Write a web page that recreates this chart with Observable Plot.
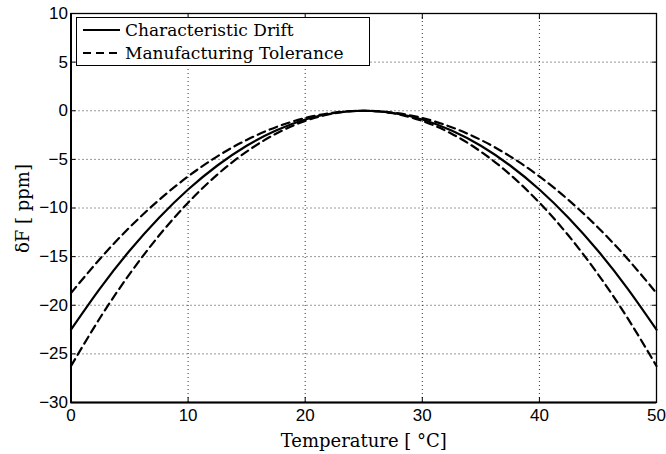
<!DOCTYPE html>
<html><head><meta charset="utf-8">
<script src="https://cdn.jsdelivr.net/npm/d3@7"></script>
<script src="https://cdn.jsdelivr.net/npm/@observablehq/plot@0.6"></script>
<style>
html,body{margin:0;padding:0;background:#fff;}
#wrap{position:relative;width:666px;height:454px;}
#legend{position:absolute;left:76px;top:17px;width:292px;height:47px;border:1.3px solid #000;background:#fff;font-family:"DejaVu Serif";font-size:17px;color:#000;}
.row{position:absolute;left:6px;height:22px;display:flex;align-items:center;white-space:nowrap;}
.row span{margin-left:5px;}
</style></head><body>
<div id="wrap"><div id="chart"></div>
<div id="legend">
<div class="row" style="top:1px"><svg width="37" height="4"><line x1="0" y1="2" x2="37" y2="2" stroke="#000" stroke-width="2.2"/></svg><span>Characteristic Drift</span></div>
<div class="row" style="top:24px"><svg width="37" height="4"><line x1="0" y1="2" x2="37" y2="2" stroke="#000" stroke-width="2.2" stroke-dasharray="8,5"/></svg><span>Manufacturing Tolerance</span></div>
</div></div>
<script>
const temps = [0,2.5,5,7.5,10,12.5,15,17.5,20,22.5,25,27.5,30,32.5,35,37.5,40,42.5,45,47.5,50];
const drift = [-22.5,-18.23,-14.4,-11.03,-8.1,-5.63,-3.6,-2.03,-0.9,-0.23,0,-0.23,-0.9,-2.03,-3.6,-5.63,-8.1,-11.03,-14.4,-18.23,-22.5];
const tolUpper = [-18.75,-15.19,-12.0,-9.19,-6.75,-4.69,-3.0,-1.69,-0.75,-0.19,0,-0.19,-0.75,-1.69,-3.0,-4.69,-6.75,-9.19,-12.0,-15.19,-18.75];
const tolLower = [-26.25,-21.26,-16.8,-12.86,-9.45,-6.56,-4.2,-2.36,-1.05,-0.26,0,-0.26,-1.05,-2.36,-4.2,-6.56,-9.45,-12.86,-16.8,-21.26,-26.25];
const xTicks = [0,10,20,30,40,50];
const yTicks = [-30,-25,-20,-15,-10,-5,0,5,10];

const pts = (ys) => temps.map((t,i)=>({t, v: ys[i]}));
const sans = "Liberation Sans, Arial, sans-serif";
const serifFont = "DejaVu Serif";

const chart = Plot.plot({
  width: 666, height: 454,
  marginLeft: 70.5, marginRight: 10, marginTop: 13, marginBottom: 52,
  style: {fontFamily: sans, fontSize: "17px", background: "#fff", color: "#000"},
  x: {domain: [0,50]},
  y: {domain: [-30,10]},
  marks: [
    Plot.ruleX(xTicks, {stroke: "#333", strokeWidth: 1, strokeDasharray: "1,3"}),
    Plot.ruleY(yTicks, {stroke: "#333", strokeWidth: 1, strokeDasharray: "1,3"}),
    Plot.line(pts(drift), {x: "t", y: "v", curve: "natural", stroke: "#000", strokeWidth: 2.2}),
    Plot.line(pts(tolUpper), {x: "t", y: "v", curve: "natural", stroke: "#000", strokeWidth: 2.2, strokeDasharray: "8,5"}),
    Plot.line(pts(tolLower), {x: "t", y: "v", curve: "natural", stroke: "#000", strokeWidth: 2.2, strokeDasharray: "8,5"}),
    Plot.axisX(xTicks, {anchor: "bottom", tickSize: 0, tickPadding: 6, label: null, fontSize: 17, fill: "#000"}),
    Plot.axisY(yTicks, {anchor: "left", tickSize: 0, tickPadding: 3, label: null, fontSize: 17, fill: "#000"}),
    Plot.axisX(xTicks, {anchor: "bottom", tickSize: -5, tickFormat: () => "", label: null}),
    Plot.axisX(xTicks, {anchor: "top", tickSize: -5, tickFormat: () => "", label: null}),
    Plot.axisY(yTicks, {anchor: "left", tickSize: -5, tickFormat: () => "", label: null}),
    Plot.axisY(yTicks, {anchor: "right", tickSize: -5, tickFormat: () => "", label: null}),
    Plot.frame({stroke: "#000", strokeWidth: 1.3}),
    Plot.ruleY([-30], {stroke: "#000", strokeWidth: 2}),
    Plot.ruleX([0], {stroke: "#000", strokeWidth: 2}),
    Plot.text(["Temperature [ °C]"], {frameAnchor: "bottom", dy: 44, fontFamily: serifFont, fontSize: 18, fill: "#000"}),
    Plot.text(["δF [ ppm]"], {frameAnchor: "left", dx: -48, dy: 45, rotate: -90, fontFamily: serifFont, fontSize: 18, fill: "#000"})
  ]
});
document.getElementById("chart").appendChild(chart);
</script>
</body></html>
